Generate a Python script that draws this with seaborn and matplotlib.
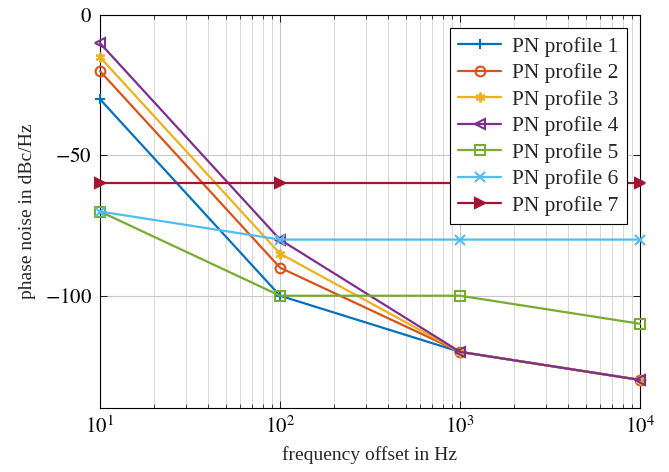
import numpy as np
import pandas as pd
import matplotlib
matplotlib.use('Agg')
import matplotlib.pyplot as plt
import seaborn as sns

# Data
freqs = [10, 100, 1000, 10000]
pn1 = [-30, -100, -120, -130]
pn2 = [-20, -90, -120, -130]
pn3 = [-15, -85, -120, -130]
pn4 = [-10, -80, -120, -130]
pn5 = [-70, -100, -100, -110]
pn6 = [-70, -80, -80, -80]
pn7 = [-60, -60, -60, -60]
labels = ['PN profile %d' % i for i in range(1, 8)]

series = [pn1, pn2, pn3, pn4, pn5, pn6, pn7]
colors = ['#0072BD', '#D95319', '#EDB120', '#7E2F8E', '#77AC30', '#4DBEEE', '#A2142F']
markers = ['+', 'o', (6, 2, 0), '<', 's', 'x', '>']
filled = [True, False, True, False, False, True, True]

sns.set_theme(style='white')
plt.rcParams['font.family'] = ['Liberation Serif', 'DejaVu Serif']
plt.rcParams['mathtext.fontset'] = 'stix'

fig = plt.figure(figsize=(6.69, 4.72), dpi=100)
ax = fig.add_axes([100 / 669, 1 - 408 / 472, 540 / 669, 393 / 472])

df = pd.DataFrame({
    'freq': np.tile(freqs, len(series)),
    'pn': np.concatenate(series),
    'profile': np.repeat(labels, len(freqs)),
})

for lab, c, m, f in zip(labels, colors, markers, filled):
    sub = df[df['profile'] == lab]
    sns.lineplot(data=sub, x='freq', y='pn', ax=ax, color=c, marker=m,
                 markersize=7, markeredgewidth=1.5, linewidth=1.6,
                 markerfacecolor=c if f else 'none', markeredgecolor=c,
                 label=lab, zorder=3, clip_on=False)

ax.set_xscale('log')
ax.set_xlim(10, 10000)
ax.set_ylim(-140, 0)
ax.set_yticks([0, -50, -100])
ax.set_yticklabels(['$0$', '$-50$', '$-100$'])
ax.set_xticks([10, 100, 1000, 10000])
ax.set_xticklabels(['$10^{1}$', '$10^{2}$', '$10^{3}$', '$10^{4}$'])

ax.grid(True, which='major', color='#c8c8c8', linewidth=0.8)
ax.grid(True, which='minor', axis='x', color='#d8d8d8', linewidth=0.7)
ax.tick_params(which='both', direction='in', labelsize=15, colors='black', pad=6)
ax.tick_params(which='major', length=5, width=0.6)
ax.tick_params(which='minor', length=3, width=0.5)
ax.tick_params(axis='y', which='minor', left=False)
ax.xaxis.set_tick_params(which='both', bottom=True, top=True)
ax.yaxis.set_tick_params(which='major', left=True, right=True)
for s in ax.spines.values():
    s.set_color('black')
    s.set_linewidth(0.8)

ax.set_xlabel('frequency offset in Hz', fontsize=14, labelpad=6)
ax.set_ylabel('phase noise in dBc/Hz', fontsize=14, labelpad=6)

leg = ax.legend(loc='upper right', fontsize=15.5, frameon=True, fancybox=False,
                framealpha=1, facecolor='white',
                edgecolor='black', handlelength=2.0, borderpad=0.4,
                labelspacing=0.3, handletextpad=0.5, borderaxespad=0.6)
leg.get_frame().set_linewidth(0.8)
leg.set_zorder(5)

fig.savefig('out.png', dpi=100)
